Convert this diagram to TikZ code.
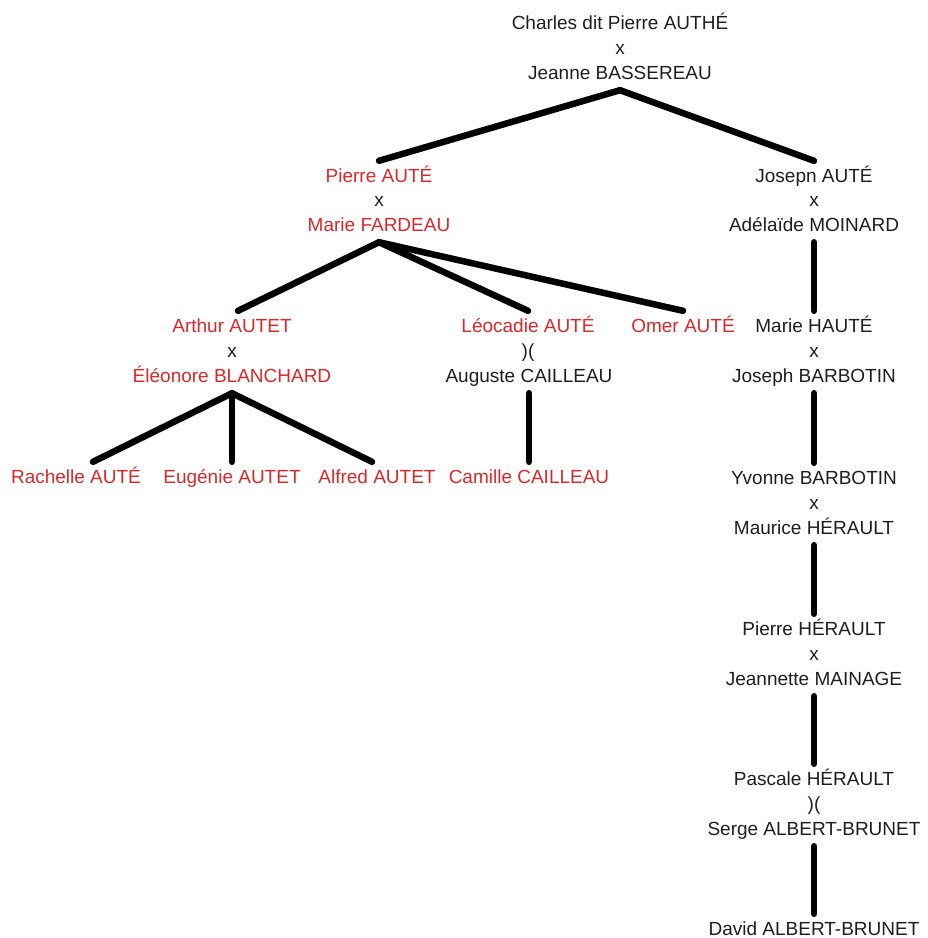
\documentclass[tikz,border=0pt]{standalone}
\usepackage{fontspec}
\setmainfont{Liberation Sans}
\definecolor{redname}{RGB}{218,40,42}
\definecolor{inkname}{RGB}{30,30,30}
\tikzset{
	person/.style={font=\fontsize{19}{24}\selectfont, text=inkname, text height=14pt, text depth=4pt, inner xsep=0pt, inner ysep=7pt},
	redperson/.style={person, text=redname},
	link/.style={line width=6.5pt, line cap=round, black},
}
\begin{document}
\begin{tikzpicture}[x=1pt,y=-1pt]
		\useasboundingbox (0,0) rectangle (928,938);
		\node[person] (charles) at (620,24) {Charles dit Pierre AUTHÉ};
		\node[person] (cx1) at (620,49) {x};
		\node[person] (jeanne) at (620,74) {Jeanne BASSEREAU};
		\node[redperson] (pierre) at (379,177) {Pierre AUTÉ};
		\node[person] (cx2) at (379,201.5) {x};
		\node[redperson] (marie) at (379,226) {Marie FARDEAU};
		\node[person] (josepn) at (814,177) {Josepn AUTÉ};
		\node[person] (cx3) at (814,201.5) {x};
		\node[person] (adelaide) at (814,226) {Adélaïde MOINARD};
		\node[redperson] (arthur) at (232,327) {Arthur AUTET};
		\node[person] (cx4) at (232,352) {x};
		\node[redperson] (eleonore) at (232,377) {Éléonore BLANCHARD};
		\node[redperson] (leocadie) at (528,327) {Léocadie AUTÉ};
		\node[person] (cx5) at (528,352) {)(};
		\node[person] (auguste) at (529,377) {Auguste CAILLEAU};
		\node[redperson] (omer) at (683,327) {Omer AUTÉ};
		\node[person] (marieh) at (814,327) {Marie HAUTÉ};
		\node[person] (cx6) at (814,352) {x};
		\node[person] (josephb) at (814,377) {Joseph BARBOTIN};
		\node[redperson] (rachelle) at (76,478) {Rachelle AUTÉ};
		\node[redperson] (eugenie) at (232,478) {Eugénie AUTET};
		\node[redperson] (alfred) at (377,478) {Alfred AUTET};
		\node[redperson] (camille) at (529,478) {Camille CAILLEAU};
		\node[person] (yvonne) at (814,479) {Yvonne BARBOTIN};
		\node[person] (cx7) at (814,504) {x};
		\node[person] (maurice) at (814,529) {Maurice HÉRAULT};
		\node[person] (pierreh) at (814,630) {Pierre HÉRAULT};
		\node[person] (cx8) at (814,655) {x};
		\node[person] (jeannette) at (814,680) {Jeannette MAINAGE};
		\node[person] (pascale) at (814,780) {Pascale HÉRAULT};
		\node[person] (cx9) at (814,805) {)(};
		\node[person] (serge) at (814,830) {Serge ALBERT-BRUNET};
		\node[person] (david) at (814,930) {David ALBERT-BRUNET};
		\draw[link] (jeanne.south) -- (pierre.north);
		\draw[link] (jeanne.south) -- (josepn.north);
		\draw[link] (marie.south) -- ([xshift=6pt]arthur.north);
		\draw[link] (marie.south) -- (leocadie.north);
		\draw[link] (marie.south) -- (omer.north);
		\draw[link] (adelaide.south) -- (marieh.north);
		\draw[link] (eleonore.south) -- ([xshift=17pt]rachelle.north);
		\draw[link] (eleonore.south) -- (eugenie.north);
		\draw[link] (eleonore.south) -- ([xshift=-5pt]alfred.north);
		\draw[link] (auguste.south) -- (camille.north);
		\draw[link] (josephb.south) -- (yvonne.north);
		\draw[link] (maurice.south) -- (pierreh.north);
		\draw[link] (jeannette.south) -- (pascale.north);
		\draw[link] (serge.south) -- (david.north);
		\end{tikzpicture}
\end{document}
